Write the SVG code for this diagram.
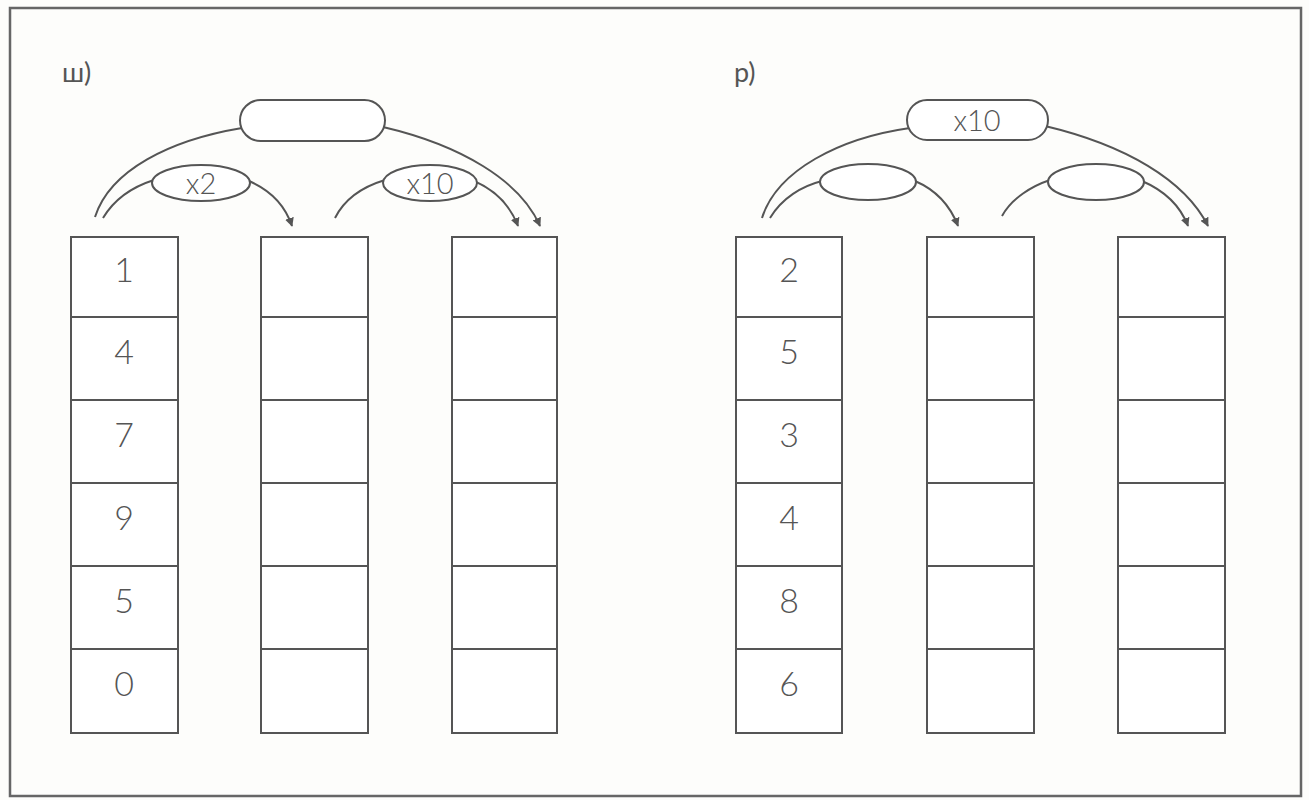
<svg xmlns="http://www.w3.org/2000/svg" width="1309" height="800" viewBox="0 0 1309 800">
<style>
.bg{fill:#fdfdfb}
.frame{fill:none;stroke:#666;stroke-width:2.5}
.cell{fill:#fff;stroke:#555;stroke-width:2}
.ov{fill:#fff;stroke:#555;stroke-width:2}
.con{fill:none;stroke:#555;stroke-width:2}
.dig{font-family:Lato,"Liberation Sans",sans-serif;font-weight:300;font-size:34px;fill:#555;text-anchor:middle}
.lab{font-family:Lato,"Liberation Sans",sans-serif;font-weight:400;font-size:27px;fill:#555}
.ot{font-family:Lato,"Liberation Sans",sans-serif;font-weight:300;font-size:29px;fill:#555;text-anchor:middle}
</style>
<defs>
<marker id="ah" viewBox="0 0 10 10" refX="9" refY="5" markerWidth="9" markerHeight="9" markerUnits="userSpaceOnUse" orient="auto">
<path d="M0,0 L10,5 L0,10 z" fill="#555"/>
</marker>
</defs>
<rect class="bg" x="0" y="0" width="1309" height="800"/>
<rect class="frame" x="10" y="8" width="1291" height="788"/>
<text class="lab" x="62" y="82">ш)</text>
<text class="lab" x="734" y="82">р)</text>

<g id="connectors">
<path class="con" d="M95,217 C110,170 170,140 242,128"/>
<path class="con" d="M383,127 C460,145 520,180 540,226" marker-end="url(#ah)"/>
<path class="con" d="M103,218 C115,198 135,186 154,180"/>
<path class="con" d="M249,181 C270,190 285,205 292,226" marker-end="url(#ah)"/>
<path class="con" d="M335,218 C345,198 365,186 385,180"/>
<path class="con" d="M474,181 C495,190 510,205 518,226" marker-end="url(#ah)"/>
<path class="con" d="M762,218 C777,170 840,138 910,128"/>
<path class="con" d="M1045,126 C1125,145 1185,180 1208,226" marker-end="url(#ah)"/>
<path class="con" d="M770,218 C782,198 802,186 822,181"/>
<path class="con" d="M915,181 C936,190 950,205 958,226" marker-end="url(#ah)"/>
<path class="con" d="M1002,216 C1012,198 1032,186 1050,180"/>
<path class="con" d="M1142,181 C1163,190 1180,205 1188,226" marker-end="url(#ah)"/>
</g>

<g id="oval-top-left"><rect class="ov" x="240" y="100" width="145" height="41" rx="20.5"/></g>
<g id="oval-x2"><ellipse class="ov" cx="201" cy="183" rx="49" ry="18"/><text class="ot" x="201" y="194">x2</text></g>
<g id="oval-x10-left"><ellipse class="ov" cx="430" cy="183" rx="47" ry="18"/><text class="ot" x="430" y="194">x10</text></g>
<g id="oval-top-right"><rect class="ov" x="907" y="100" width="141" height="40" rx="20"/><text class="ot" x="977" y="131">x10</text></g>
<g id="oval-r1"><ellipse class="ov" cx="868" cy="182" rx="48" ry="18"/></g>
<g id="oval-r2"><ellipse class="ov" cx="1096" cy="182" rx="48" ry="18"/></g>

<g id="col-w1">
<rect class="cell" x="71" y="237" width="107" height="80"/>
<rect class="cell" x="71" y="317" width="107" height="83"/>
<rect class="cell" x="71" y="400" width="107" height="83"/>
<rect class="cell" x="71" y="483" width="107" height="83"/>
<rect class="cell" x="71" y="566" width="107" height="83"/>
<rect class="cell" x="71" y="649" width="107" height="84"/>
<text class="dig" x="124" y="282">1</text>
<text class="dig" x="124" y="364">4</text>
<text class="dig" x="124" y="447">7</text>
<text class="dig" x="124" y="530">9</text>
<text class="dig" x="124" y="613">5</text>
<text class="dig" x="124" y="696">0</text>
</g>
<g id="col-w2">
<rect class="cell" x="261" y="237" width="107" height="80"/>
<rect class="cell" x="261" y="317" width="107" height="83"/>
<rect class="cell" x="261" y="400" width="107" height="83"/>
<rect class="cell" x="261" y="483" width="107" height="83"/>
<rect class="cell" x="261" y="566" width="107" height="83"/>
<rect class="cell" x="261" y="649" width="107" height="84"/>
</g>
<g id="col-w3">
<rect class="cell" x="452" y="237" width="105" height="80"/>
<rect class="cell" x="452" y="317" width="105" height="83"/>
<rect class="cell" x="452" y="400" width="105" height="83"/>
<rect class="cell" x="452" y="483" width="105" height="83"/>
<rect class="cell" x="452" y="566" width="105" height="83"/>
<rect class="cell" x="452" y="649" width="105" height="84"/>
</g>
<g id="col-r1">
<rect class="cell" x="736" y="237" width="106" height="80"/>
<rect class="cell" x="736" y="317" width="106" height="83"/>
<rect class="cell" x="736" y="400" width="106" height="83"/>
<rect class="cell" x="736" y="483" width="106" height="83"/>
<rect class="cell" x="736" y="566" width="106" height="83"/>
<rect class="cell" x="736" y="649" width="106" height="84"/>
<text class="dig" x="789" y="282">2</text>
<text class="dig" x="789" y="364">5</text>
<text class="dig" x="789" y="447">3</text>
<text class="dig" x="789" y="530">4</text>
<text class="dig" x="789" y="613">8</text>
<text class="dig" x="789" y="696">6</text>
</g>
<g id="col-r2">
<rect class="cell" x="927" y="237" width="107" height="80"/>
<rect class="cell" x="927" y="317" width="107" height="83"/>
<rect class="cell" x="927" y="400" width="107" height="83"/>
<rect class="cell" x="927" y="483" width="107" height="83"/>
<rect class="cell" x="927" y="566" width="107" height="83"/>
<rect class="cell" x="927" y="649" width="107" height="84"/>
</g>
<g id="col-r3">
<rect class="cell" x="1118" y="237" width="107" height="80"/>
<rect class="cell" x="1118" y="317" width="107" height="83"/>
<rect class="cell" x="1118" y="400" width="107" height="83"/>
<rect class="cell" x="1118" y="483" width="107" height="83"/>
<rect class="cell" x="1118" y="566" width="107" height="83"/>
<rect class="cell" x="1118" y="649" width="107" height="84"/>
</g>
</svg>
